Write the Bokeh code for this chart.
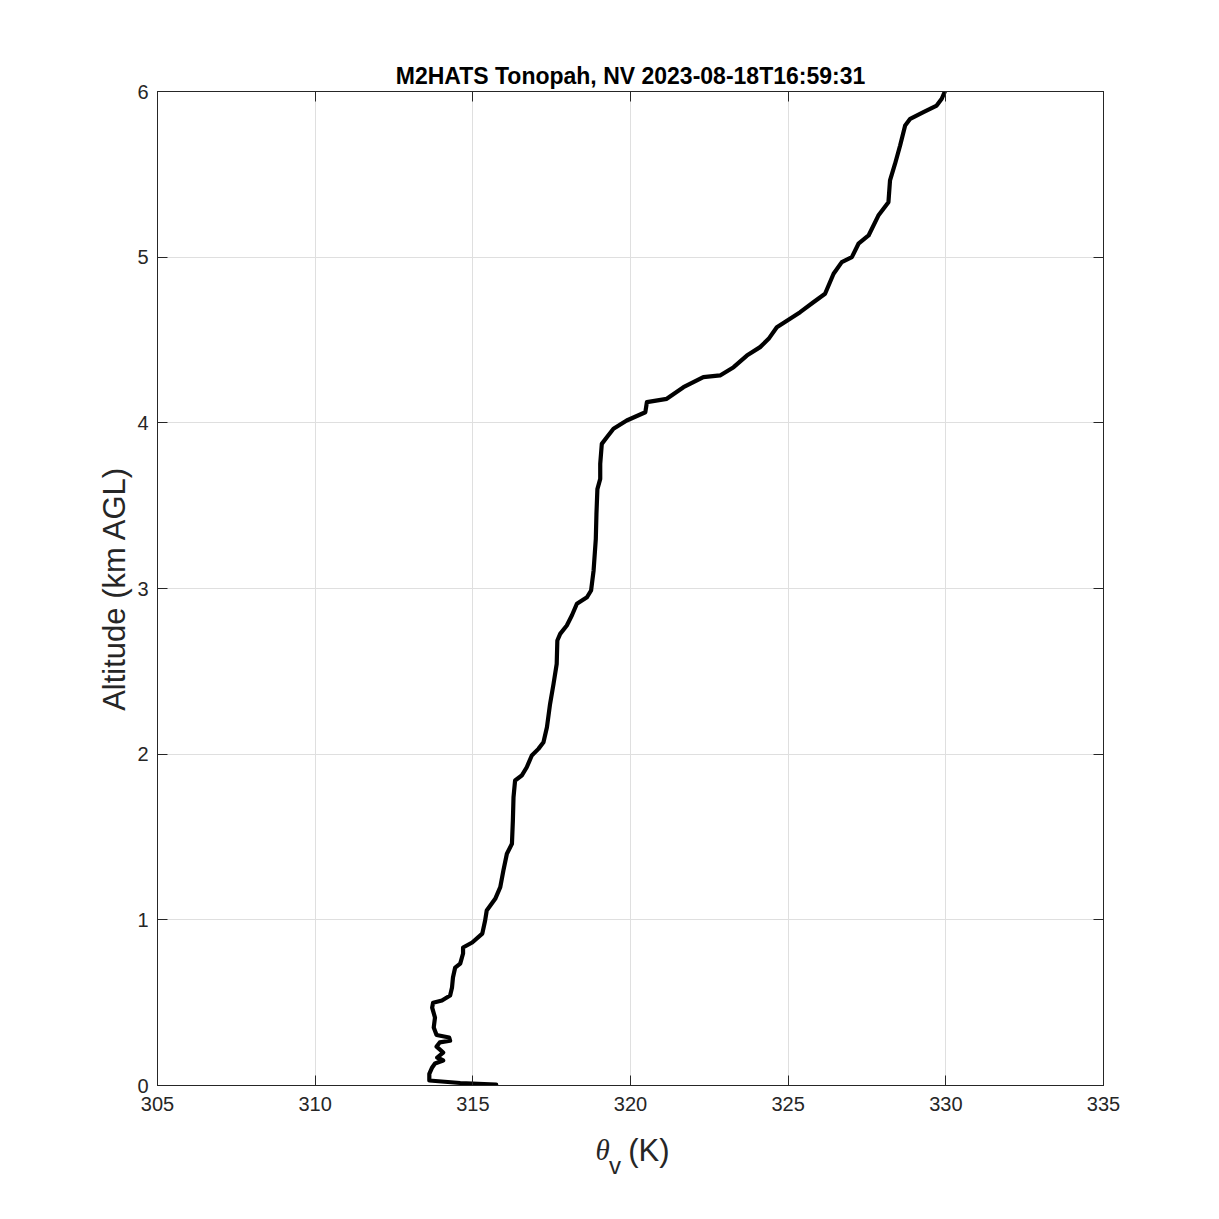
from bokeh.plotting import figure
from bokeh.layouts import column
from bokeh.models import (LinearAxis, Range1d, FixedTicker, CustomJSTickFormatter, Title)
from bokeh.core.properties import value
from bokeh.embed import file_html
from bokeh.resources import INLINE

title_text = "M2HATS Tonopah, NV 2023-08-18T16:59:31"
y_label = "Altitude (km AGL)"
x_label_parts = ["θ", "v", "(K)"]
x_ticks = [305, 310, 315, 320, 325, 330, 335]
y_ticks = [0, 1, 2, 3, 4, 5, 6]

theta_v = [315.74, 314.6, 313.62, 313.62, 313.71, 313.80, 314.06, 313.87, 314.06, 313.85,
           313.95, 314.28, 314.25, 313.85, 313.76, 313.80, 313.71, 313.74, 314.02, 314.28,
           314.34, 314.37, 314.44, 314.60, 314.69, 314.69, 314.98, 315.30, 315.39, 315.44,
           315.71, 315.87, 315.97, 316.08, 316.24, 316.27, 316.29, 316.34, 316.55, 316.71,
           316.87, 317.08, 317.24, 317.35, 317.45, 317.56, 317.66, 317.68, 317.77, 317.98,
           318.14, 318.30, 318.62, 318.75, 318.83, 318.90, 318.92, 318.95, 319.04, 319.04,
           319.09, 319.25, 319.46, 319.88, 320.47, 320.52, 321.15, 321.68, 322.31, 322.84,
           323.27, 323.69, 324.11, 324.38, 324.64, 325.06, 325.38, 325.80, 326.17, 326.44,
           326.70, 327.02, 327.23, 327.55, 327.86, 328.18, 328.23, 328.39, 328.55, 328.71,
           328.87, 329.29, 329.71, 329.87, 329.97]
alt_km = [0.005, 0.015, 0.03, 0.07, 0.109, 0.133, 0.151, 0.169, 0.199, 0.235,
          0.26, 0.27, 0.29, 0.305, 0.35, 0.41, 0.47, 0.50, 0.513, 0.543,
          0.592, 0.652, 0.712, 0.736, 0.797, 0.833, 0.863, 0.917, 0.996, 1.056,
          1.127, 1.197, 1.298, 1.399, 1.459, 1.600, 1.740, 1.841, 1.871, 1.921,
          1.992, 2.032, 2.072, 2.163, 2.304, 2.425, 2.545, 2.686, 2.726, 2.777,
          2.837, 2.908, 2.947, 2.988, 3.109, 3.3, 3.45, 3.6, 3.662, 3.753,
          3.873, 3.913, 3.964, 4.014, 4.064, 4.125, 4.145, 4.215, 4.276, 4.286,
          4.336, 4.406, 4.457, 4.507, 4.577, 4.628, 4.668, 4.728, 4.779, 4.900,
          4.970, 5.000, 5.081, 5.131, 5.251, 5.332, 5.463, 5.564, 5.674, 5.795,
          5.835, 5.875, 5.915, 5.956, 6.0]

FONT = "Liberation Sans"
AX_COLOR = "#262626"
LEFT, RIGHT = 157, 100
FW = 946

p = figure(frame_width=FW, frame_height=994,
           min_border_left=LEFT, min_border_top=91, min_border_right=RIGHT, min_border_bottom=40,
           x_range=Range1d(305, 335), y_range=Range1d(0, 6),
           output_backend="svg", toolbar_location=None, tools="",
           background_fill_color="white", border_fill_color="white",
           outline_line_color=AX_COLOR, outline_line_width=1)

p.line(theta_v, alt_km, line_color="black", line_width=4.2, line_join="round", line_cap="round")

def style_axis(ax, ticks, show_labels=True):
    ax.ticker = FixedTicker(ticks=ticks)
    ax.axis_line_color = AX_COLOR
    ax.major_tick_line_color = AX_COLOR
    ax.major_tick_in = 10
    ax.major_tick_out = 0
    ax.minor_tick_in = 0
    ax.minor_tick_out = 0
    ax.major_label_text_font = FONT
    ax.major_label_text_font_size = "20px"
    ax.major_label_text_color = AX_COLOR
    if not show_labels:
        ax.formatter = CustomJSTickFormatter(code="return ''")
        ax.major_label_standoff = 0
        ax.major_label_text_font_size = "1px"

xa = p.xaxis[0]
ya = p.yaxis[0]
style_axis(xa, x_ticks)
style_axis(ya, y_ticks)
xa.major_label_standoff = 11
ya.major_label_standoff = 9
ya.axis_label = y_label
ya.axis_label_text_font = FONT
ya.axis_label_text_font_size = "31px"
ya.axis_label_text_font_style = "normal"
ya.axis_label_text_color = AX_COLOR
ya.axis_label_standoff = 2

top = LinearAxis()
style_axis(top, x_ticks, show_labels=False)
p.add_layout(top, "above")
right = LinearAxis()
style_axis(right, y_ticks, show_labels=False)
p.add_layout(right, "right")

p.xgrid.ticker = FixedTicker(ticks=x_ticks)
p.ygrid.ticker = FixedTicker(ticks=y_ticks)
p.xgrid.grid_line_color = "#dfdfdf"
p.ygrid.grid_line_color = "#dfdfdf"

p.add_layout(Title(text=title_text, align="center", text_font=FONT, text_font_size="23px",
                   text_font_style="bold", text_color="black", standoff=5), "above")

# strip below the plot holding the x-axis label (theta with subscript v, then (K))
q = figure(frame_width=FW, frame_height=70,
           min_border_left=LEFT, min_border_right=RIGHT, min_border_top=0, min_border_bottom=0,
           x_range=p.x_range, y_range=Range1d(0, 70),
           output_backend="svg", toolbar_location=None, tools="",
           background_fill_color="white", border_fill_color="white", outline_line_color=None)
q.axis.visible = False
q.grid.visible = False
q.text(x=[318.89], y=[46], text=[x_label_parts[0]], text_font=value("Liberation Serif"),
       text_font_style="italic", text_font_size="29px", text_color=AX_COLOR,
       text_baseline="alphabetic", text_align="left")
q.text(x=[319.32], y=[30], text=[x_label_parts[1]], text_font=value(FONT),
       text_font_size="24px", text_color=AX_COLOR,
       text_baseline="alphabetic", text_align="left")
q.text(x=[319.93], y=[45], text=[x_label_parts[2]], text_font=value(FONT),
       text_font_size="31px", text_color=AX_COLOR,
       text_baseline="alphabetic", text_align="left")

layout = column(p, q, spacing=0)
open("out.html", "w").write(file_html(layout, INLINE))
